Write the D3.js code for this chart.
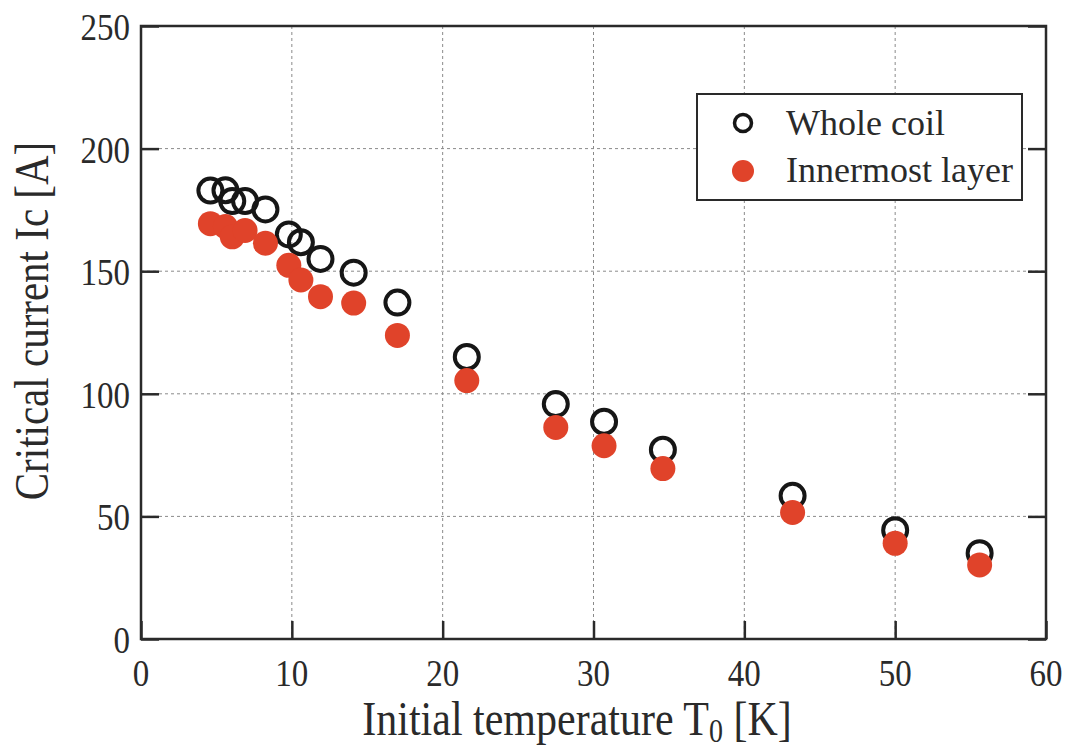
<!DOCTYPE html>
<html>
<head>
<meta charset="utf-8">
<script src="https://cdn.jsdelivr.net/npm/d3@7"></script>
<style>
body { margin: 0; background: #fff; }
text { font-family: "Liberation Serif", "DejaVu Serif", serif; fill: #2a2a2a; }
</style>
</head>
<body>
<div id="chart"></div>
<script>
// data
var temps = [4.6, 5.6, 6.05, 6.9, 8.25, 9.8, 10.6, 11.9, 14.1, 17.0, 21.6, 27.5, 30.7, 34.6, 43.2, 50.0, 55.6];
var wholeCoil = [182.9, 183.0, 178.6, 178.6, 175.2, 165.0, 161.8, 155.0, 149.4, 137.2, 115.0, 95.8, 88.6, 77.2, 58.4, 44.4, 35.0];
var innermost = [169.4, 168.2, 164.0, 166.6, 161.4, 152.4, 146.4, 139.6, 137.0, 123.8, 105.4, 86.3, 78.8, 69.5, 51.6, 39.0, 30.2];
var xTicks = [0, 10, 20, 30, 40, 50, 60];
var yTicks = [0, 50, 100, 150, 200, 250];
var seriesNames = ['Whole coil', 'Innermost layer'];

var W = 1071, H = 751;
var m = {left: 141, top: 26, right: 1046, bottom: 639};
var tall = 1.18; // the original font is taller than Times

var svg = d3.select('#chart').append('svg').attr('width', W).attr('height', H);

var x = d3.scaleLinear().domain([0, 60]).range([m.left, m.right]);
var y = d3.scaleLinear().domain([0, 250]).range([m.bottom, m.top]);

// grid
svg.append('g').selectAll('line').data(xTicks.slice(1, -1)).enter().append('line')
  .attr('x1', d => x(d)).attr('x2', d => x(d)).attr('y1', m.top).attr('y2', m.bottom)
  .attr('stroke', '#8a8a8a').attr('stroke-width', 1).attr('stroke-dasharray', '3,3');
svg.append('g').selectAll('line').data(yTicks.slice(1, -1)).enter().append('line')
  .attr('y1', d => y(d)).attr('y2', d => y(d)).attr('x1', m.left).attr('x2', m.right)
  .attr('stroke', '#8a8a8a').attr('stroke-width', 1).attr('stroke-dasharray', '3,3');

// inward ticks (labels drawn separately)
var tl = 18;
svg.append('g').attr('transform', 'translate(0,' + m.bottom + ')')
  .call(d3.axisBottom(x).tickValues(xTicks).tickSize(-tl).tickFormat(''));
svg.append('g').attr('transform', 'translate(' + m.left + ',0)')
  .call(d3.axisLeft(y).tickValues(yTicks).tickSize(-tl).tickFormat(''));
svg.append('g').attr('transform', 'translate(' + m.right + ',0)')
  .call(d3.axisRight(y).tickValues(yTicks).tickSize(-tl).tickFormat(''));
svg.selectAll('.domain').remove();
svg.selectAll('.tick line').attr('stroke', '#2a2a2a').attr('stroke-width', 2.5);

// tick labels
svg.append('g').selectAll('text').data(xTicks).enter().append('text')
  .attr('transform', d => 'translate(' + x(d) + ',686) scale(1,' + tall + ')')
  .attr('text-anchor', 'middle').attr('font-size', '33px').text(d => d);
svg.append('g').selectAll('text').data(yTicks).enter().append('text')
  .attr('transform', d => 'translate(130,' + (y(d) + 14) + ') scale(1,' + tall + ')')
  .attr('text-anchor', 'end').attr('font-size', '33px').text(d => d);

// frame
svg.append('rect').attr('x', m.left).attr('y', m.top)
  .attr('width', m.right - m.left).attr('height', m.bottom - m.top)
  .attr('fill', 'none').attr('stroke', '#2a2a2a').attr('stroke-width', 2.5);

// points
var whole = temps.map((t, i) => ({t: t, v: wholeCoil[i]}));
var inner = temps.map((t, i) => ({t: t, v: innermost[i]}));

svg.append('g').selectAll('circle').data(whole).enter().append('circle')
  .attr('cx', d => x(d.t)).attr('cy', d => y(d.v)).attr('r', 12)
  .attr('fill', 'none').attr('stroke', '#161616').attr('stroke-width', 4);
svg.append('g').selectAll('circle').data(inner).enter().append('circle')
  .attr('cx', d => x(d.t)).attr('cy', d => y(d.v)).attr('r', 12.5)
  .attr('fill', '#e0432a');

// legend
var lg = svg.append('g');
lg.append('rect').attr('x', 697).attr('y', 94).attr('width', 325).attr('height', 106)
  .attr('fill', '#fff').attr('stroke', '#2a2a2a').attr('stroke-width', 2);
lg.append('circle').attr('cx', 743).attr('cy', 123).attr('r', 8.5)
  .attr('fill', 'none').attr('stroke', '#161616').attr('stroke-width', 3.5);
lg.append('circle').attr('cx', 743).attr('cy', 171).attr('r', 11).attr('fill', '#e0432a');
lg.selectAll('text').data(seriesNames).enter().append('text')
  .attr('x', 786).attr('y', (d, i) => 135 + i * 47)
  .attr('font-size', '36px').text(d => d);

// axis titles
var xt = svg.append('text').attr('transform', 'translate(577,735) scale(1,' + tall + ')')
  .attr('text-anchor', 'middle').attr('font-size', '42px');
xt.append('tspan').text('Initial temperature T');
xt.append('tspan').attr('font-size', '28px').attr('dy', 6).text('0');
xt.append('tspan').attr('dy', -6).text(' [K]');

svg.append('text').attr('transform', 'translate(48,321) rotate(-90) scale(1,1.16)')
  .attr('text-anchor', 'middle').attr('font-size', '41px').text('Critical current Ic [A]');
</script>
</body>
</html>
